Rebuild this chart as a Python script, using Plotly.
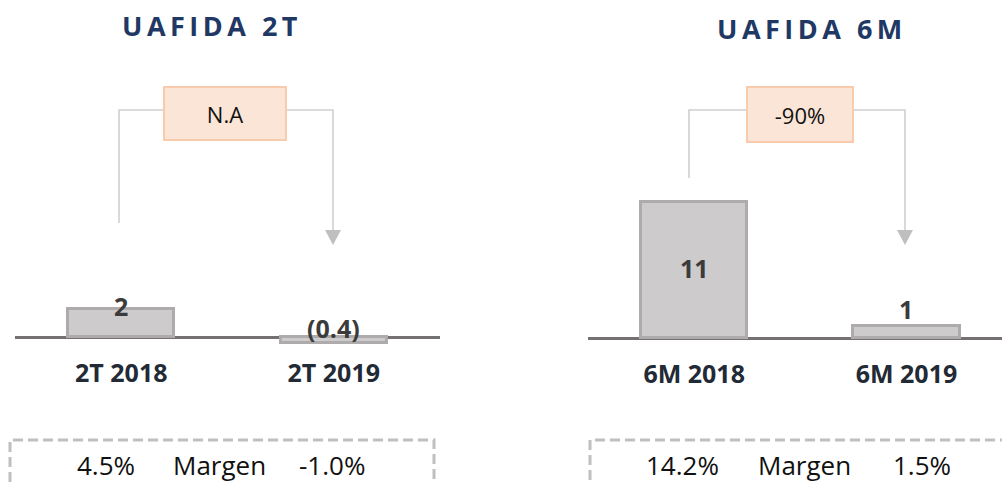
import plotly.graph_objects as go

# data
periods_2t = ["2T 2018", "2T 2019"]
uafida_2t = [2, -0.4]
change_2t = "N.A"
margin_2t = [4.5, -1.0]

periods_6m = ["6M 2018", "6M 2019"]
uafida_6m = [11, 1]
change_6m = "-90%"
margin_6m = [14.2, 1.5]

W, H = 1002, 483
FONT = "Open Sans"
NAVY = "#1F3864"
DARK = "#222A35"
LINE_GRAY = "#D0D0D0"


def px(x):
  return x / W


def py(y):
  return 1 - y / H


def fmt_val(v):
  return "({:.1f})".format(-v) if v < 0 else "{:g}".format(v)


def fmt_pct(v):
  return "{:.1f}%".format(v)


def y_range(zero_px, per_unit):
  return [-(H - zero_px) / per_unit, zero_px / per_unit]


fig = go.Figure()

for periods, vals, xa, ya in [(periods_2t, uafida_2t, "x", "y"),
                              (periods_6m, uafida_6m, "x2", "y2")]:
  fig.add_trace(go.Bar(
      x=periods, y=vals, xaxis=xa, yaxis=ya, width=0.5,
      marker=dict(color="#CDCBCB", line=dict(color="#ADABAB", width=3)),
      hoverinfo="skip", showlegend=False,
  ))

axis_common = dict(showgrid=False, ticks="", showline=False, zeroline=False,
                   fixedrange=True, automargin=False,
                   tickfont=dict(family=FONT, size=25, color=DARK, weight="bold"))
yaxis_common = dict(showgrid=False, showticklabels=False, zeroline=True,
                    zerolinecolor="#767171", zerolinewidth=3, fixedrange=True,
                    automargin=False)

fig.update_layout(
    width=W, height=H,
    margin=dict(l=0, r=0, t=0, b=0, pad=0),
    paper_bgcolor="white", plot_bgcolor="rgba(0,0,0,0)",
    font=dict(family=FONT),
    bargap=0,
    xaxis=dict(domain=[px(15), px(440)], range=[-0.5, 1.5], anchor="free",
               position=py(337), ticklabelstandoff=19, **axis_common),
    yaxis=dict(domain=[0, 1], range=y_range(337, 14), anchor="x", **yaxis_common),
    xaxis2=dict(domain=[px(588), 1], range=[-0.5, 1.45], anchor="free",
                position=py(338), ticklabelstandoff=19, **axis_common),
    yaxis2=dict(domain=[0, 1], range=y_range(338, 12.4), anchor="x2", **yaxis_common),
)

ann = []
shapes = []


def paper_text(text, cx, cy, font, **kw):
  return dict(text=text, x=px(cx), y=py(cy), xref="paper", yref="paper",
              xanchor="center", yanchor="middle", showarrow=False, font=font, **kw)


# titles
for text, cx, cy in [("UAFIDA 2T", 212, 26), ("UAFIDA 6M", 812, 28)]:
  ann.append(paper_text('<span style="letter-spacing:4.5px">{}</span>'.format(text),
                        cx, cy, dict(family=FONT, size=27, color=NAVY, weight="bold")))

# bar value labels
lbl_font = dict(family=FONT, size=25, color="#3B3B3B", weight="bold")
for txt, xv, yv, xr, yr, shift in [
    (fmt_val(uafida_2t[0]), periods_2t[0], uafida_2t[0], "x", "y", 3),
    (fmt_val(uafida_2t[1]), periods_2t[1], 0, "x", "y", 9),
    (fmt_val(uafida_6m[0]), periods_6m[0], uafida_6m[0] / 2, "x2", "y2", 2),
    (fmt_val(uafida_6m[1]), periods_6m[1], uafida_6m[1], "x2", "y2", 17)]:
  ann.append(dict(text=txt, x=xv, y=yv, xref=xr, yref=yr, xanchor="center",
                  yanchor="middle", yshift=shift, showarrow=False, font=lbl_font))

# change boxes + brackets
for text, bx0, bx1, by0, by1, lx, rx, ly_end in [
    (change_2t, 164, 286, 87, 140, 119, 333, 223),
    (change_6m, 747, 853, 87, 142, 689, 905, 178)]:
  ann.append(paper_text(text, (bx0 + bx1) / 2, (by0 + by1) / 2,
                        dict(family=FONT, size=22, color="#111111"),
                        width=bx1 - bx0 - 4, height=by1 - by0 - 4,
                        bgcolor="#FBE5D6", bordercolor="#F8CBAD", borderwidth=2))
  line = dict(color=LINE_GRAY, width=1.6)
  shapes.append(dict(type="path", xref="paper", yref="paper", line=line,
                     path="M{},{} L{},{} L{},{}".format(
                         px(lx), py(ly_end), px(lx), py(110), px(bx0), py(110))))
  shapes.append(dict(type="path", xref="paper", yref="paper", line=line,
                     path="M{},{} L{},{} L{},{}".format(
                         px(bx1), py(110), px(rx), py(110), px(rx), py(231))))
  shapes.append(dict(type="path", xref="paper", yref="paper",
                     fillcolor="#BFBFBF", line=dict(width=0),
                     path="M{},{} L{},{} L{},{} Z".format(
                         px(rx - 8), py(230), px(rx + 8), py(230), px(rx), py(245))))

# margin boxes
for x0, x1, items in [(10, 434, [(106, fmt_pct(margin_2t[0])), (219, "Margen"),
                                 (332, fmt_pct(margin_2t[1]))]),
                      (590, 1030, [(682, fmt_pct(margin_6m[0])), (804, "Margen"),
                                   (922, fmt_pct(margin_6m[1]))])]:
  shapes.append(dict(type="rect", xref="paper", yref="paper",
                     x0=px(x0), x1=px(x1), y0=py(520), y1=py(440),
                     line=dict(color="#BFBFBF", width=3, dash="10px,5px")))
  for cx, t in items:
    ann.append(paper_text(t, cx, 465, dict(family=FONT, size=26, color="#111111")))

fig.update_layout(annotations=ann, shapes=shapes)

fig.write_html("out.html", config={"displayModeBar": False},
               post_script="document.body.style.margin='0';"
                           "document.body.style.overflow='hidden';")
